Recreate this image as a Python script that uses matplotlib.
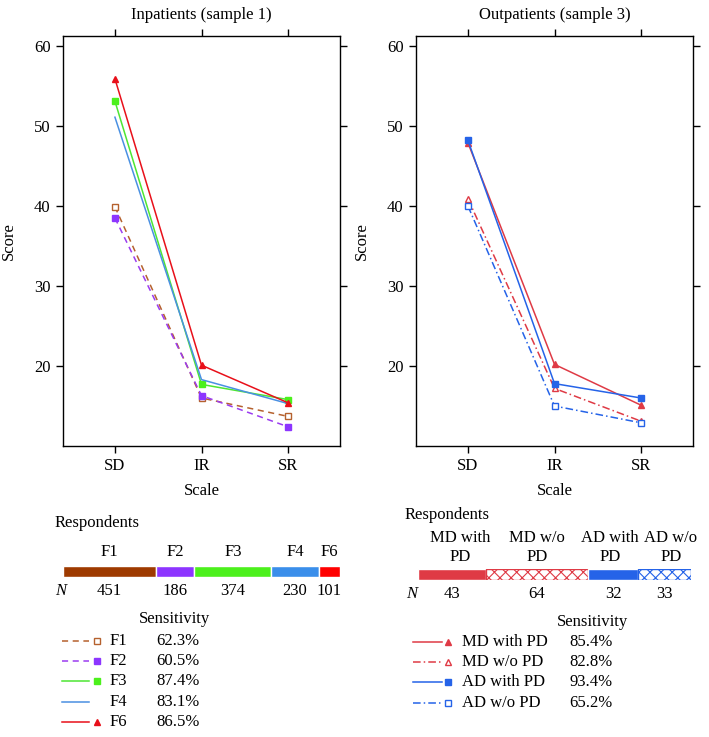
import numpy as np
import matplotlib
matplotlib.use('Agg')
import matplotlib.pyplot as plt

plt.rcParams['font.family'] = ['Liberation Serif', 'DejaVu Serif']
plt.rcParams['font.size'] = 12
plt.rcParams['hatch.linewidth'] = 0.8

W, H = 709, 737

scales = ['SD', 'IR', 'SR']

# Inpatients (sample 1)
in_groups = ['F1', 'F2', 'F3', 'F4', 'F6']
in_F1 = [39.9, 16.0, 13.7]
in_F2 = [38.5, 16.3, 12.4]
in_F3 = [53.1, 17.7, 15.8]
in_F4 = [51.1, 18.3, 15.3]
in_F6 = [55.9, 20.1, 15.4]
in_scores = [in_F1, in_F2, in_F3, in_F4, in_F6]
in_n = [451, 186, 374, 230, 101]
in_sens = ['62.3%', '60.5%', '87.4%', '83.1%', '86.5%']

# Outpatients (sample 3)
out_groups = ['MD with PD', 'MD w/o PD', 'AD with PD', 'AD w/o PD']
out_bar_labels = ['MD with\nPD', 'MD w/o\nPD', 'AD with\nPD', 'AD w/o\nPD']
out_md_pd = [47.9, 20.2, 15.1]
out_md_nopd = [40.9, 17.2, 13.1]
out_ad_pd = [48.2, 17.8, 16.0]
out_ad_nopd = [40.0, 15.0, 12.9]
out_scores = [out_md_pd, out_md_nopd, out_ad_pd, out_ad_nopd]
out_n = [43, 64, 32, 33]
out_sens = ['85.4%', '82.8%', '93.4%', '65.2%']

# styles
in_bar_colors = ['#9E3A00', '#8D35FF', '#4CF01C', '#3A8EEA', '#FF0000']
in_styles = [
    dict(color='#B5612E', ls=(0, (4, 3)), marker='s', mfc='white', mec='#B5612E', ms=4.5),
    dict(color='#9B3CF0', ls=(0, (4, 3)), marker='s', mfc='#8D35FF', mec='#8D35FF', ms=4.5),
    dict(color='#4DE633', ls='-', marker='s', mfc='#4CF01C', mec='#4CF01C', ms=4.5),
    dict(color='#4A90E2', ls='-', marker=None),
    dict(color='#E8101A', ls='-', marker='^', mfc='#E8101A', mec='#E8101A', ms=5),
]
red, blue = '#DF3A45', '#2563E8'
out_bar_colors = [red, red, blue, blue]
out_bar_hatch = [None, 'xxx', None, 'xxx']
out_styles = [
    dict(color=red, ls='-', marker='^', mfc=red, mec=red, ms=5),
    dict(color=red, ls=(0, (5, 2, 1, 2)), marker='^', mfc='white', mec=red, ms=5),
    dict(color=blue, ls='-', marker='s', mfc=blue, mec=blue, ms=4.5),
    dict(color=blue, ls=(0, (5, 2, 1, 2)), marker='s', mfc='white', mec=blue, ms=4.5),
]
# horizontal nudge (in count units) so the outpatient labels do not collide
out_label_nudge = [5, 0, -2, 4]


def px_axes(fig, x0, y0, x1, y1):
    return fig.add_axes([x0 / W, 1 - y1 / H, (x1 - x0) / W, (y1 - y0) / H])


def draw_panel(fig, rect, title, series, styles):
    ax = px_axes(fig, *rect)
    x = np.arange(1, len(scales) + 1)
    for vals, st in zip(series, styles):
        ax.plot(x, vals, lw=1.1, mew=1, **st)
    ax.set_xlim(0.4, 3.6)
    ax.set_ylim(10, 61.25)
    ax.set_xticks(x)
    ax.set_xticklabels(scales)
    ax.set_yticks([20, 30, 40, 50, 60])
    ax.tick_params(direction='out', length=5, width=1, top=True, right=True,
                   labeltop=False, labelright=False, pad=4)
    for s in ax.spines.values():
        s.set_linewidth(1)
    ax.set_xlabel('Scale', labelpad=6)
    ax.set_ylabel('Score')
    ax.yaxis.set_label_coords(-0.165, 0.5)
    ax.text(0.5, 1.052, title, transform=ax.transAxes, ha='center', va='center')
    return ax


def draw_bar(fig, rect, n, colors, labels, hatches, nudge, label_y, n_y):
    bx = px_axes(fig, *rect)
    left = np.concatenate([[0], np.cumsum(n)[:-1]])
    for l, w, c, h in zip(left, n, colors, hatches):
        if h:
            bx.barh(0, w, left=l, height=1, color='white', edgecolor=c, hatch=h, lw=1)
        else:
            bx.barh(0, w, left=l, height=1, color=c, edgecolor='white', lw=1)
    centers = left + np.array(n) / 2
    for c, lab, v, d in zip(centers, labels, n, nudge):
        bx.text(c + d, label_y, lab, ha='center', va='center', linespacing=1.25)
        bx.text(c, n_y, str(v), ha='center', va='center')
    bx.set_xlim(0, sum(n))
    bx.set_ylim(-0.5, 0.5)
    bx.axis('off')


fig = plt.figure(figsize=(W / 100, H / 100), dpi=100)

draw_panel(fig, (63, 36, 340, 446), 'Inpatients (sample 1)', in_scores, in_styles)
draw_panel(fig, (416, 36, 693, 446), 'Outpatients (sample 3)', out_scores, out_styles)

draw_bar(fig, (63, 566, 339.5, 577), in_n, in_bar_colors, in_groups,
         [None] * len(in_n), [0] * len(in_n), 1.8, -1.75)
draw_bar(fig, (418.3, 569, 690.7, 580), out_n, out_bar_colors, out_bar_labels,
         out_bar_hatch, out_label_nudge, 2.45, -1.8)

# overlay in pixel coordinates for the text and the legend keys
ov = fig.add_axes([0, 0, 1, 1])
ov.set_xlim(0, W)
ov.set_ylim(H, 0)
ov.axis('off')

ov.text(55, 523, 'Respondents', ha='left', va='center')
ov.text(61, 591, 'N', ha='center', va='center', style='italic')
ov.text(175, 619, 'Sensitivity', ha='center', va='center')
for i, (g, st, s) in enumerate(zip(in_groups, in_styles, in_sens)):
    y = 641 + i * 20.2
    ov.plot([61.7, 89.3], [y, y], color=st['color'], ls=st['ls'], lw=1.1)
    if st['marker']:
        ov.plot([96.7], [y], marker=st['marker'], ms=st['ms'], mfc=st['mfc'],
                mec=st['mec'], mew=1, ls='none')
    ov.text(110, y, g, ha='left', va='center')
    ov.text(156.7, y, s, ha='left', va='center')

ov.text(405, 515, 'Respondents', ha='left', va='center')
ov.text(411.7, 594.3, 'N', ha='center', va='center', style='italic')
ov.text(592.3, 621.7, 'Sensitivity', ha='center', va='center')
for i, (g, st, s) in enumerate(zip(out_groups, out_styles, out_sens)):
    y = 641.7 + i * 20.3
    ov.plot([412.7, 441.7], [y, y], color=st['color'], ls=st['ls'], lw=1.1)
    ov.plot([448.3], [y], marker=st['marker'], ms=st['ms'], mfc=st['mfc'],
            mec=st['mec'], mew=1, ls='none')
    ov.text(461.7, y, g, ha='left', va='center')
    ov.text(569.3, y, s, ha='left', va='center')

fig.savefig('out.png', dpi=100)
